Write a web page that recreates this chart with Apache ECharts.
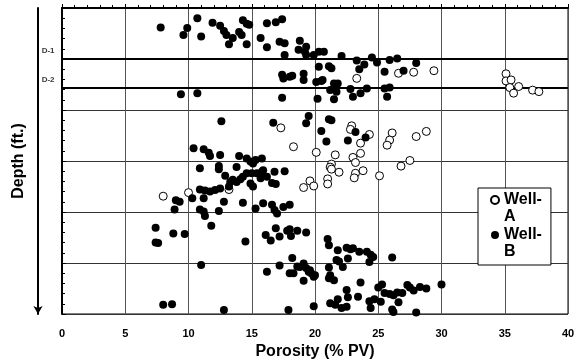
<!DOCTYPE html>
<html>
<head>
<meta charset="utf-8">
<script src="https://cdn.jsdelivr.net/npm/echarts@6/dist/echarts.min.js"></script>
<style>
  html, body { margin: 0; padding: 0; background: #fff; }
  #chart { width: 576px; height: 362px; }
</style>
</head>
<body>
<div id="chart"></div>
<script>
// porosity (% PV), depth (relative units, 0 = top of log)
var wellA = [
  [23.3,13.8],[26.6,12.8],[27.8,12.6],[29.4,12.3],[35.1,12.9],[35.1,14.3],[35.5,14.1],[35.4,15.6],
  [35.7,16.7],[36.1,15.4],[37.2,16.1],[37.7,16.4],
  [17.3,23.5],[18.3,27.2],[20.1,28.3],[21.6,28.8],[22.9,23.1],[22.8,23.8],[23.6,26.5],[23.6,28.5],
  [23.0,29.3],[23.2,30.3],[24.3,24.8],[26.1,24.5],[25.9,25.9],[25.7,26.9],[28.0,25.2],[28.8,24.2],
  [21.3,30.6],[21.2,31.2],[21.3,31.6],[21.9,32.2],[19.6,33.9],[19.1,35.2],[19.9,34.9],[21.0,33.5],
  [21.0,34.5],[23.2,32.4],[23.1,33.3],[23.8,31.9],[25.1,32.9],[26.8,31.0],[27.5,29.9],
  [8.0,36.9],[10.0,36.2],[13.2,35.6]
];

var wellB = [
  [7.8,3.8],[9.9,3.9],[9.6,5.3],[10.7,2.0],[11.0,5.6],[11.9,2.9],[12.5,3.5],[12.8,4.5],[13.0,5.3],
  [13.2,7.1],[13.5,5.9],[14.0,4.7],[14.3,2.4],[14.6,3.1],[14.2,5.3],[14.6,7.1],[14.8,3.3],[15.7,5.9],
  [16.2,7.7],[16.2,3.0],[16.9,2.8],[17.4,2.2],[17.2,6.6],[17.6,6.9],[17.6,9.2],[18.8,6.4],[18.7,8.2],
  [19.2,8.6],[19.3,9.2],[19.3,7.6],[19.9,9.2],[20.3,8.6],[20.7,8.6],[22.1,9.4],[23.3,10.3],[23.9,11.1],
  [24.5,9.7],[24.9,10.7],[25.9,10.2],[26.5,9.9],[28.0,10.8],
  [17.4,13.1],[17.5,13.8],[18.0,13.5],[18.2,13.3],[19.1,12.9],[19.1,14.1],[20.1,14.5],[20.5,14.3],
  [20.3,11.5],[21.1,11.4],[21.3,11.8],[20.6,14.1],[23.5,12.0],[25.5,12.5],[27.0,12.3],[21.5,14.8],[21.8,14.8],
  [21.6,15.8],[21.7,16.4],[21.2,16.1],[21.5,17.9],[22.8,15.9],[23.0,17.4],[23.6,16.7],[24.1,15.8],
  [25.5,15.8],[25.7,17.4],[25.9,15.6],[20.2,17.8],[17.4,17.6],[9.4,16.9],[10.7,16.7],
  [12.6,22.2],[16.7,22.5],[19.5,21.2],[19.3,22.6],[21.1,21.8],[21.3,22.0],[20.5,24.1],[20.9,26.2],
  [22.6,26.0],[23.2,24.3],[24.0,25.4],[17.6,32.0],
  [10.4,27.5],[11.2,27.7],[11.6,28.4],[11.7,29.0],[12.5,28.8],[14.0,29.0],[14.6,29.5],[14.9,30.1],
  [15.1,30.5],[15.3,29.8],[15.8,29.5],[10.9,31.4],[12.4,31.0],[12.4,31.6],[13.8,31.2],[12.9,32.9],
  [13.3,34.1],[13.2,35.0],[13.8,34.1],[14.1,33.6],[14.3,33.1],[14.6,32.4],[15.0,32.4],[15.4,32.4],
  [15.8,32.1],[15.9,31.8],[16.2,33.1],[14.9,34.4],[15.1,35.0],[16.8,32.1],[16.6,34.3],[16.9,34.5],
  [15.7,33.4],[13.5,33.7],
  [10.9,35.6],[11.3,35.8],[11.7,36.0],[12.1,35.7],[12.5,35.4],[10.3,37.3],[11.2,37.3],[9.0,37.7],
  [9.3,38.0],[8.9,39.5],[12.8,38.0],[14.3,38.2],[10.9,39.5],[11.2,39.9],[11.3,40.8],[12.4,39.8],
  [15.3,39.3],[15.9,38.3],[16.6,38.6],[16.8,39.6],[17.0,40.3],[17.5,39.0],[18.0,38.6],
  [11.8,42.7],[7.4,43.1],[8.8,44.2],[9.7,44.3],[7.4,46.0],[7.6,46.1],[14.5,45.8],[16.1,44.5],
  [16.5,45.6],[16.9,43.2],[17.2,44.8],[17.8,43.7],[18.0,43.4],[18.1,44.7],[18.6,43.7],[19.3,44.0],
  [21.0,45.3],[21.1,46.5],[21.8,47.5],[22.5,47.0],[22.8,47.3],[23.0,47.1],[23.5,47.8],[22.6,49.1],
  [24.1,47.8],[24.4,48.4],[24.6,48.8],[24.3,49.8],[21.7,49.4],[21.9,49.7],[26.1,48.9],[18.2,49.0],
  [11.0,50.4],[16.2,51.7],[17.2,50.5],[18.0,52.0],[18.3,52.0],[18.6,50.7],[18.8,50.8],[19.1,50.1],
  [19.3,51.0],[19.5,51.7],[19.6,51.4],[19.7,52.0],[19.9,52.7],[20.0,52.4],[19.1,53.5],[21.1,50.9],
  [22.2,50.8],[21.2,52.4],[21.1,53.0],[21.5,53.4],[23.6,53.8],[22.5,55.3],[25.0,54.8],[25.3,54.2],
  [25.5,55.9],[25.9,56.1],[26.2,56.3],[26.5,55.8],[26.9,55.9],[26.6,57.7],[27.3,54.3],[27.5,54.8],
  [27.8,55.4],[28.3,54.7],[28.8,55.0],[30.0,54.2],[22.6,56.7],[23.4,56.6],[21.2,57.9],[21.6,58.2],
  [21.8,57.1],[22.1,58.8],[22.5,58.6],[24.3,57.5],[24.7,57.1],[24.4,58.8],[25.2,57.6],[19.9,58.5],
  [26.2,59.6],[28.0,59.7],[8.0,58.2],[8.7,58.1],[12.8,59.2],[17.9,59.2],[26.1,59.1]
];

// zone markers: name, depth
var zoneNames = ['D-1', 'D-2'];
var zoneDepths = [10, 15.7];

var FONT = '"Liberation Sans", Arial, sans-serif';

var myChart = echarts.init(document.getElementById('chart'));

// 图例图标：圆在上方，对齐第一行文字（8x34 的路径框）
var legendIcon = 'path://M4,0L4,0M4,34L4,34M0,8.5A4,4,0,1,1,8,8.5A4,4,0,1,1,0,8.5Z';

// zone lines stick out a little to the left of the axis
var zoneSeries = zoneDepths.map(function (d, i) {
  return {
    name: zoneNames[i],
    type: 'line',
    clip: false,
    silent: true,
    showSymbol: false,
    symbol: 'none',
    lineStyle: { color: '#000', width: 2 },
    data: [[-1.3, d], [40, d]],
    z: 2
  };
});

var zoneTags = zoneNames.map(function (n, i) {
  return [-1.1, zoneDepths[i] - 1.7, n];
});

var option = {
  animation: false,
  grid: {
    left: 62, right: 8, top: 8, bottom: 48,
    outerBoundsMode: 'none',
    containLabel: false,
    show: true,
    borderColor: '#000',
    borderWidth: 1
  },
  legend: {
    data: ['Well-A', 'Well-B'],
    orient: 'vertical',
    left: 478,
    top: 188,
    padding: [2.5, 9, 4.5, 12],
    itemGap: 0,
    itemWidth: 8,
    itemHeight: 34,
    icon: legendIcon,
    backgroundColor: '#fff',
    borderColor: '#000',
    borderWidth: 1,
    borderRadius: 0,
    formatter: function (name) { return name.replace('-', '-\n'); },
    textStyle: {
      fontFamily: FONT,
      fontWeight: 'bold',
      fontSize: 16,
      lineHeight: 17,
      color: '#000'
    }
  },
  xAxis: {
    type: 'value',
    min: 0,
    max: 40,
    interval: 5,
    name: 'Porosity (% PV)',
    nameLocation: 'middle',
    nameGap: 30,
    nameTextStyle: { fontFamily: FONT, fontWeight: 'bold', fontSize: 16, color: '#000' },
    axisLine: { lineStyle: { color: '#000', width: 2 } },
    axisTick: { inside: true, length: 4, lineStyle: { color: '#000' } },
    minorTick: { show: true, splitNumber: 5, length: 3, lineStyle: { color: '#000' } },
    axisLabel: { fontFamily: FONT, fontWeight: 'bold', fontSize: 11, color: '#000', margin: 14 },
    splitLine: { show: true, lineStyle: { color: '#555', width: 1 } }
  },
  yAxis: [
    {
      type: 'value',
      inverse: true,
      min: 0,
      max: 60,
      interval: 10,
      name: 'Depth (ft.)',
      nameLocation: 'middle',
      nameGap: 35,
      nameTextStyle: { fontFamily: FONT, fontWeight: 'bold', fontSize: 16, color: '#000' },
      axisLine: { lineStyle: { color: '#000', width: 2 } },
      axisTick: { inside: true, length: 4, lineStyle: { color: '#000' } },
      minorTick: { show: true, splitNumber: 5, length: 3, lineStyle: { color: '#000' } },
      axisLabel: { show: false },
      splitLine: { show: true, lineStyle: { color: '#333', width: 1 } }
    },
    {
      // 深度箭头：只显示轴线，向下箭头
      type: 'value',
      position: 'left',
      offset: 24,
      inverse: true,
      min: 0,
      max: 60,
      interval: 10,
      axisLine: {
        show: true,
        symbol: ['arrow', 'none'],
        symbolSize: [7, 8],
        lineStyle: { color: '#000', width: 2 }
      },
      axisTick: { show: false },
      axisLabel: { show: false },
      splitLine: { show: false }
    }
  ],
  series: [
    {
      name: 'Well-A',
      type: 'scatter',
      symbol: 'circle',
      symbolSize: 8,
      itemStyle: { color: '#fff', borderColor: '#000', borderWidth: 1, opacity: 1 },
      data: wellA,
      z: 3
    },
    {
      name: 'Well-B',
      type: 'scatter',
      symbol: 'circle',
      symbolSize: 8,
      itemStyle: { color: '#000', opacity: 1 },
      data: wellB,
      z: 4
    },
    {
      // D-1 / D-2 tags
      name: 'tags',
      type: 'scatter',
      symbolSize: 1,
      clip: false,
      silent: true,
      itemStyle: { color: 'rgba(0,0,0,0)' },
      label: {
        show: true,
        position: 'inside',
        formatter: function (p) { return p.value[2]; },
        fontFamily: FONT,
        fontWeight: 'bold',
        fontSize: 8,
        color: '#000'
      },
      data: zoneTags
    }
  ].concat(zoneSeries)
};

myChart.setOption(option);
window.addEventListener('resize', function () {
  myChart.resize();
});
</script>
</body>
</html>
